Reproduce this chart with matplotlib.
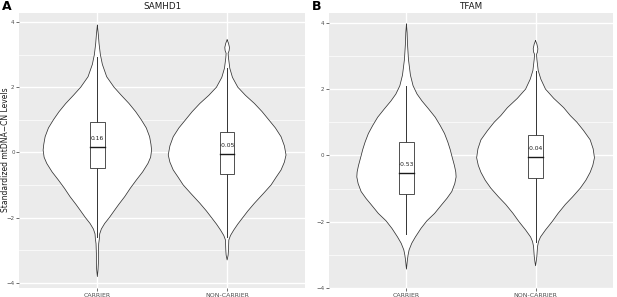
import numpy as np
import matplotlib
matplotlib.use("Agg")
import matplotlib.pyplot as plt

groups = ["CARRIER", "NON-CARRIER"]
titles = ["SAMHD1", "TFAM"]
letters = ["A", "B"]

# violin outlines: y level and half width (category units x 390)
a_car_y = [3.90, 3.6, 3.34, 3.0, 2.7, 2.32, 2.0, 1.75, 1.5, 1.25, 1.0, 0.75, 0.48, 0.25, 0.07,
           -0.15, -0.34, -0.6, -0.85, -1.1, -1.36, -1.6, -1.77, -2.0, -2.18, -2.35, -2.5, -2.65,
           -2.8, -3.1, -3.4, -3.6, -3.81]
a_car_w = [0, 3, 5, 9, 15, 28, 50, 72, 95, 115, 132, 147, 157, 161, 163,
           160, 152, 136, 117, 99, 82, 64, 52, 36, 22, 12, 7, 6,
           4, 3, 3, 2, 0]
a_non_y = [3.45, 3.35, 3.22, 3.12, 3.04, 2.9, 2.58, 2.3, 2.0, 1.75, 1.5, 1.25, 1.0, 0.75, 0.48,
           0.2, -0.08, -0.3, -0.54, -0.75, -1.0, -1.25, -1.56, -1.8, -2.0, -2.2, -2.38, -2.55,
           -2.69, -3.0, -3.15, -3.3]
a_non_w = [0, 4, 7, 6, 3, 4, 8, 16, 32, 55, 82, 105, 125, 145, 162,
           172, 177, 172, 162, 148, 132, 110, 82, 62, 47, 32, 20, 10,
           5, 4, 3, 0]
b_car_y = [3.96, 3.7, 3.39, 2.9, 2.42, 2.1, 1.85, 1.64, 1.4, 1.15, 0.9, 0.66, 0.4, 0.18, -0.05,
           -0.31, -0.5, -0.65, -0.85, -1.09, -1.3, -1.48, -1.75, -1.97, -2.2, -2.46, -2.65, -2.85,
           -3.0, -3.14, -3.43]
b_car_w = [0, 2, 3, 6, 12, 20, 32, 47, 67, 87, 102, 115, 125, 132, 138,
           145, 149, 150, 146, 137, 122, 107, 85, 62, 44, 27, 16, 8,
           5, 3, 0]
b_non_y = [3.46, 3.36, 3.22, 3.12, 3.05, 2.9, 2.56, 2.3, 2.0, 1.72, 1.44, 1.2, 1.0, 0.75, 0.47,
           0.2, -0.07, -0.3, -0.51, -0.75, -0.99, -1.25, -1.48, -1.75, -2.0, -2.25, -2.46, -2.6,
           -2.75, -3.04, -3.2, -3.33]
b_non_w = [0, 4, 7, 6, 3, 4, 8, 16, 30, 55, 85, 105, 125, 145, 165,
           174, 178, 173, 165, 152, 135, 112, 90, 68, 50, 30, 15, 9,
           6, 4, 2, 0]

# box stats: lower whisker, q1, median, q3, upper whisker
a_car_box = [-2.6, -0.49, 0.16, 0.92, 2.93]
a_non_box = [-2.59, -0.67, -0.05, 0.61, 2.58]
b_car_box = [-2.36, -1.17, -0.53, 0.39, 2.1]
b_non_box = [-2.62, -0.67, -0.04, 0.63, 2.56]

panels = [
    [(a_car_y, a_car_w, a_car_box), (a_non_y, a_non_w, a_non_box)],
    [(b_car_y, b_car_w, b_car_box), (b_non_y, b_non_w, b_non_box)],
]
ylims = [(-4.16, 4.29), (-3.76, 4.31)]

fig = plt.figure(figsize=(6.17, 2.97), dpi=100)
axes = [fig.add_axes([19.5 / 617, 9 / 297, 285.5 / 617, 275.5 / 297]),
        fig.add_axes([329 / 617, 9 / 297, 284 / 617, 275.5 / 297])]

edge = "#333333"
for k, ax in enumerate(axes):
    ax.set_facecolor("#EBEBEB")
    for s in ax.spines.values():
        s.set_visible(False)
    ax.set_xlim(0.4, 2.6)
    ax.set_ylim(*ylims[k])
    ax.set_yticks([-4, -2, 0, 2, 4])
    ax.set_yticks([-3, -1, 1, 3], minor=True)
    ax.set_xticks([1, 2])
    ax.set_xticklabels(groups)
    ax.grid(True, which="major", color="white", lw=1.0, zorder=0)
    ax.grid(True, which="minor", axis="y", color="white", lw=0.5, zorder=0)
    ax.set_axisbelow(True)
    ax.tick_params(which="major", length=2, width=0.5, color=edge, labelsize=4.5,
                   labelcolor="#4D4D4D", pad=1.5)
    ax.tick_params(axis="y", labelsize=4.0)
    ax.tick_params(which="minor", length=0)

    for i, (vy, vw, box) in enumerate(panels[k]):
        x0 = i + 1
        hw = np.array(vw) / 390.0
        vy = np.array(vy)
        ax.fill_betweenx(vy, x0 - hw, x0 + hw, facecolor="white", edgecolor="none", zorder=2)
        ax.plot(np.concatenate([x0 - hw, (x0 + hw)[::-1]]), np.concatenate([vy, vy[::-1]]),
                color=edge, lw=0.55, zorder=3)
        wlo, q1, med, q3, whi = box
        bw = 0.055
        ax.plot([x0, x0], [wlo, q1], color=edge, lw=0.7, zorder=4)
        ax.plot([x0, x0], [q3, whi], color=edge, lw=0.7, zorder=4)
        ax.add_patch(plt.Rectangle((x0 - bw, q1), 2 * bw, q3 - q1, facecolor="white",
                                   edgecolor=edge, lw=0.6, zorder=4))
        ax.plot([x0 - bw, x0 + bw], [med, med], color="#1A1A1A", lw=1.0, zorder=5)
        ax.annotate(f"{med:.2f}", (x0, med), xytext=(0, 6), textcoords="offset points",
                    ha="center", va="center", fontsize=4.3, color="#1A1A1A", zorder=6)

    ax.set_title(titles[k], fontsize=6.3, color="#1A1A1A", pad=2.5)

# y label placed by hand so it stays inside the figure
fig.text(6 / 617, 1 - 150 / 297, "Standardized mtDNA\u2212CN Levels", fontsize=5.5,
         color="#1A1A1A", rotation=90, ha="center", va="center")
fig.text(2 / 617, 1 - 6 / 297, "A", fontsize=9, fontweight="bold", va="center", ha="left")
fig.text(312 / 617, 1 - 6 / 297, "B", fontsize=9, fontweight="bold", va="center", ha="left")

fig.savefig("out.png", dpi=100)
